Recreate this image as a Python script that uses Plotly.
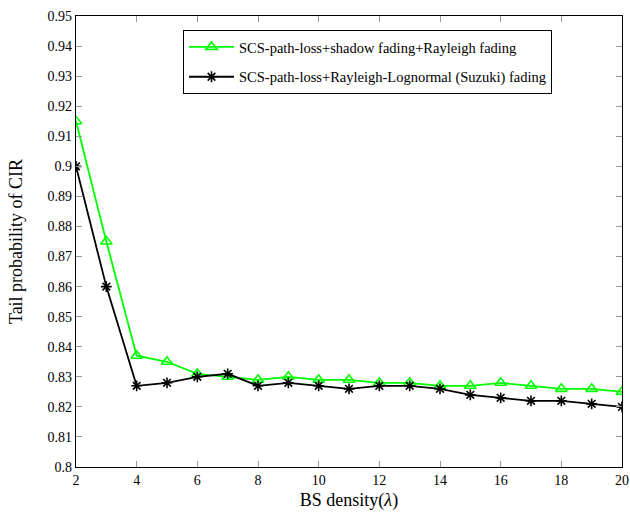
import plotly.graph_objects as go

x_vals = list(range(2, 21))
green_vals = [0.915, 0.875, 0.837, 0.835, 0.831, 0.830, 0.829, 0.830, 0.829, 0.829,
              0.828, 0.828, 0.827, 0.827, 0.828, 0.827, 0.826, 0.826, 0.825]
black_vals = [0.900, 0.860, 0.827, 0.828, 0.830, 0.831, 0.827, 0.828, 0.827, 0.826,
              0.827, 0.827, 0.826, 0.824, 0.823, 0.822, 0.822, 0.821, 0.820]
green_name = "SCS-path-loss+shadow fading+Rayleigh fading"
black_name = "SCS-path-loss+Rayleigh-Lognormal (Suzuki) fading"
y_tickvals = [0.80, 0.81, 0.82, 0.83, 0.84, 0.85, 0.86, 0.87, 0.88, 0.89, 0.90,
              0.91, 0.92, 0.93, 0.94, 0.95]
y_ticktext = ["0.8", "0.81", "0.82", "0.83", "0.84", "0.85", "0.86", "0.87", "0.88",
              "0.89", "0.9", "0.91", "0.92", "0.93", "0.94", "0.95"]
x_tickvals = [2, 4, 6, 8, 10, 12, 14, 16, 18, 20]

font_family = "Liberation Serif"

fig = go.Figure()
fig.add_trace(go.Scatter(
    x=x_vals, y=green_vals, name=green_name, mode="lines+markers", legendgroup="g1",
    line=dict(color="#00ff00", width=1.8),
    marker=dict(symbol="triangle-up-open", size=10, color="#00ff00",
                line=dict(color="#00ff00", width=1.6)),
))
fig.add_trace(go.Scatter(
    x=x_vals, y=black_vals, name=black_name, mode="lines+markers", legendgroup="g2",
    line=dict(color="black", width=1.8),
    marker=dict(symbol="asterisk-open", size=9, color="black",
                line=dict(color="black", width=1.6)),
))

axis_common = dict(
    showgrid=False, zeroline=False, showline=True, linecolor="black", linewidth=1.3,
    mirror="ticks", ticks="inside", ticklen=6, tickcolor="#999999", tickwidth=1,
    tickfont=dict(family=font_family, size=14, color="black"), automargin=False,
)

fig.update_layout(
    width=630, height=516,
    margin=dict(l=76, r=8, t=16, b=49),
    paper_bgcolor="white", plot_bgcolor="white",
    font=dict(family=font_family, color="black"),
    showlegend=True,
    legend=dict(
        x=0.196, y=0.969, xanchor="left", yanchor="top",
        bgcolor="white", bordercolor="black", borderwidth=1,
        font=dict(family=font_family, size=14.5, color="black"),
        itemwidth=45, tracegroupgap=8,
    ),
    xaxis=dict(range=[2, 20], tickvals=x_tickvals,
               title=dict(text="BS density(<i>λ</i>)", font=dict(family=font_family, size=18), standoff=6),
               **axis_common),
    yaxis=dict(range=[0.8, 0.95], tickvals=y_tickvals, ticktext=y_ticktext,
               title=dict(text="Tail probability of CIR", font=dict(family=font_family, size=18), standoff=20),
               **axis_common),
)

fig.write_html("out.html")
